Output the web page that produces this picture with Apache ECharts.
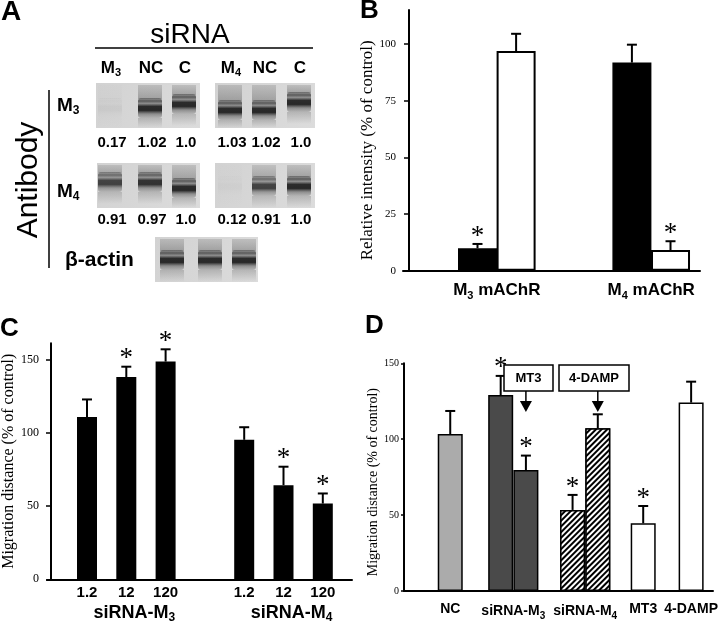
<!DOCTYPE html>
<html><head><meta charset="utf-8">
<script src="https://cdn.jsdelivr.net/npm/echarts@6/dist/echarts.min.js"></script>
<style>html,body{margin:0;padding:0;background:#fff}#c{width:720px;height:623px}</style>
</head><body><div id="c"></div>
<script>
// ---------------- DATA ----------------
// Panel A: western blot densitometry ratios (relative to control C)
const blotLanes = ['M3', 'NC', 'C', 'M4', 'NC', 'C'];
const m3AntibodyRatios = [0.17, 1.02, 1.0, 1.03, 1.02, 1.0];
const m4AntibodyRatios = [0.91, 0.97, 1.0, 0.12, 0.91, 1.0];
const actinRatios = [1.0, 1.0, 1.0];

// Panel B: relative intensity (% of control)
const bCategories = ['M3 mAChR', 'M4 mAChR'];
const bSiM3 = [9.9, 91.8];     // black bars
const bSiM3Sem = [1.9, 7.9];
const bSiM4 = [96.9, 9.1];     // white bars
const bSiM4Sem = [7.6, 3.9];
const bSigM3 = [1, 0];
const bSigM4 = [0, 1];
const bTicks = [0, 25, 50, 75, 100];

// Panel C: migration distance (% of control)
const cDoses = ['1.2', '12', '120'];
const cGroups = ['siRNA-M3', 'siRNA-M4'];
const cValues = [111.0, 138.3, 148.9, 95.4, 64.4, 51.8];
const cSem = [12.0, 7.1, 8.4, 8.6, 12.6, 6.9];
const cSig = [0, 1, 1, 0, 1, 1];
const cTicks = [0, 50, 100, 150];

// Panel D: migration distance (% of control)
const dBars = ['NC', 'siRNA-M3', 'siRNA-M3 + MT3', 'siRNA-M4', 'siRNA-M4 + 4-DAMP', 'MT3', '4-DAMP'];
const dValues = [103.4, 129.1, 79.7, 53.4, 107.2, 44.6, 124.1];
const dSem = [15.2, 12.6, 9.5, 9.9, 9.2, 11.4, 13.8];
const dSig = [0, 1, 1, 1, 0, 1, 0];
const dGroups = ['NC', 'siRNA-M3', 'siRNA-M4', 'MT3', '4-DAMP'];
const dTicks = [0, 50, 100, 150];

// ---------------- LAYOUT (slot positions on the value x-axes) ----------------
const SANS = 'Liberation Sans';
const SERIF = 'Liberation Serif';
const bPosM3 = [0, 4], bPosM4 = [1, 5], bGroupPos = [0.5, 4.5];
const cPos = [0, 1, 2, 4, 5, 6], cGroupPos = [1, 5];
const dPos = [0, 2, 3, 4.85, 5.85, 7.65, 9.55];
const dGroupPos = [0, 2.5, 5.35, 7.65, 9.55];

function richSub(str) {
  return '{b|' + str.replace(/M(\d)/g, 'M}{s|$1}{b|') + '}';
}
function richStyles(size, subSize, subPad) {
  return {
    b: {fontFamily: SANS, fontWeight: 'bold', fontSize: size, color: '#000'},
    s: {fontFamily: SANS, fontWeight: 'bold', fontSize: subSize, color: '#000', padding: [subPad, 0, 0, 0]}
  };
}

function errRender(params, api) {
  const x = api.value(0), v = api.value(1), e = api.value(2), s = api.value(3);
  const p0 = api.coord([x, v]), p1 = api.coord([x, e]);
  const ch = [
    {type: 'line', shape: {x1: p0[0], y1: p0[1], x2: p1[0], y2: p1[1]}, style: {stroke: '#000', lineWidth: 2}},
    {type: 'line', shape: {x1: p1[0] - 5, y1: p1[1], x2: p1[0] + 5, y2: p1[1]}, style: {stroke: '#000', lineWidth: 2}}
  ];
  if (s) ch.push({type: 'text', x: p1[0], y: p1[1] + 6, style: {text: '*', fontFamily: SERIF, fontSize: 27, align: 'center', verticalAlign: 'bottom', fill: '#000'}});
  return {type: 'group', children: ch};
}

function yAxisBase(grid, max, ticks, size, margin, offset) {
  return {
    gridIndex: grid, type: 'value', min: 0, max: max, offset: offset,
    axisLine: {show: true, onZero: false, lineStyle: {color: '#000', width: 2}},
    axisTick: {show: true, length: 5, customValues: ticks, lineStyle: {color: '#000', width: 1.5}},
    axisLabel: {customValues: ticks, fontFamily: SERIF, fontSize: size, color: '#000', margin: margin},
    splitLine: {show: false},
    nameLocation: 'middle', nameRotate: 90
  };
}
function xAxisBase(grid, min, max) {
  return {
    gridIndex: grid, type: 'value', min: min, max: max, position: 'bottom',
    axisLine: {show: true, onZero: false, lineStyle: {color: '#000', width: 2}},
    axisTick: {show: false}, splitLine: {show: false}
  };
}

// ---------------- Panel A graphics ----------------
const laneX = [110, 150, 184, 230, 264, 299];
function a(x) { return Math.max(0, Math.min(1, x)).toFixed(3); }
function laneEls(cx, top, bottom, bandY, ratio) {
  const k = Math.pow(Math.min(1, ratio), 1.6);
  const w = 24;
  const band = bandY - 9, bh = 20;
  return [
    {type: 'rect', shape: {x: cx - w / 2, y: top, width: w, height: band - top + 1},
      style: {fill: {type: 'linear', x: 0, y: 0, x2: 0, y2: 1, colorStops: [
        {offset: 0, color: 'rgba(80,80,80,' + a(0.2 * k) + ')'}, {offset: 1, color: 'rgba(70,70,70,' + a(0.38 * k) + ')'}]}}},
    {type: 'rect', shape: {x: cx - w / 2, y: band, width: w, height: bh, r: 3},
      style: {fill: {type: 'linear', x: 0, y: 0, x2: 0, y2: 1, colorStops: [
        {offset: 0, color: 'rgba(50,50,50,' + a(0.38 * k) + ')'},
        {offset: 0.15, color: 'rgba(35,35,35,' + a(0.7 * k) + ')'},
        {offset: 0.27, color: 'rgba(50,50,50,' + a(0.45 * k) + ')'},
        {offset: 0.42, color: 'rgba(25,25,25,' + a(0.9 * k) + ')'},
        {offset: 0.62, color: 'rgba(25,25,25,' + a(0.92 * k) + ')'},
        {offset: 0.8, color: 'rgba(50,50,50,' + a(0.45 * k) + ')'},
        {offset: 1, color: 'rgba(70,70,70,' + a(0.25 * k) + ')'}]}}},
    {type: 'rect', shape: {x: cx - w / 2, y: band + bh, width: w, height: Math.max(0, Math.min(12, bottom - band - bh))},
      style: {fill: {type: 'linear', x: 0, y: 0, x2: 0, y2: 1, colorStops: [
        {offset: 0, color: 'rgba(70,70,70,' + a(0.25 * k) + ')'}, {offset: 1, color: 'rgba(70,70,70,0)'}]}}}
  ];
}
function blotEls(x, y, w, h, lanes) {
  const els = [{type: 'rect', shape: {x: x, y: y, width: w, height: h},
    style: {fill: {type: 'linear', x: 0, y: 0, x2: 1, y2: 1, colorStops: [{offset: 0, color: '#d2d2d2'}, {offset: 1, color: '#dcdcdc'}]}}}];
  lanes.forEach(l => els.push(...laneEls(l[0], y + 2, y + h, l[1], l[2])));
  return els;
}
function fmtRatio(v) { const s = String(v); return s.indexOf('.') < 0 ? s + '.0' : s; }

const row1Band = [107, 107, 103, 109, 109, 101];
const row2Band = [181, 181, 187, 185, 185, 185];
const actinX = [172, 210, 244];

const gA = [];
gA.push({type: 'text', x: 1, y: 12, style: {text: 'A', fontFamily: SANS, fontWeight: 'bold', fontSize: 28, fill: '#000', verticalAlign: 'middle'}});
gA.push({type: 'text', x: 190, y: 35, style: {text: 'siRNA', fontFamily: SANS, fontSize: 28, fill: '#000', align: 'center', verticalAlign: 'middle'}});
gA.push({type: 'line', shape: {x1: 95, y1: 48, x2: 313, y2: 48}, style: {stroke: '#000', lineWidth: 1.5}});
blotLanes.forEach((t, i) => {
  gA.push({type: 'text', x: laneX[i] + 1, y: 68, style: {text: richSub(t), rich: richStyles(17, 11, 9), align: 'center', verticalAlign: 'middle'}});
});
gA.push(...blotEls(96, 83, 104, 45, [0, 1, 2].map(i => [laneX[i], row1Band[i], m3AntibodyRatios[i]])));
gA.push(...blotEls(215, 83, 100, 45, [3, 4, 5].map(i => [laneX[i], row1Band[i], m3AntibodyRatios[i]])));
gA.push(...blotEls(97, 163, 103, 45, [0, 1, 2].map(i => [laneX[i], row2Band[i], m4AntibodyRatios[i]])));
gA.push(...blotEls(215, 163, 100, 45, [3, 4, 5].map(i => [laneX[i], row2Band[i], m4AntibodyRatios[i]])));
gA.push(...blotEls(155, 237, 103, 45, actinX.map((x, i) => [x, 259, actinRatios[i]])));
m3AntibodyRatios.forEach((v, i) => gA.push({type: 'text', x: laneX[i] + 2, y: 143, style: {text: fmtRatio(v), fontFamily: SANS, fontWeight: 'bold', fontSize: 15, fill: '#000', align: 'center', verticalAlign: 'middle'}}));
m4AntibodyRatios.forEach((v, i) => gA.push({type: 'text', x: laneX[i] + 2, y: 220, style: {text: fmtRatio(v), fontFamily: SANS, fontWeight: 'bold', fontSize: 15, fill: '#000', align: 'center', verticalAlign: 'middle'}}));
gA.push({type: 'text', x: 57, y: 106, style: {text: richSub('M3'), rich: richStyles(19, 12, 10), verticalAlign: 'middle'}});
gA.push({type: 'text', x: 57, y: 192, style: {text: richSub('M4'), rich: richStyles(19, 12, 10), verticalAlign: 'middle'}});
gA.push({type: 'text', x: 65, y: 260, style: {text: 'β-actin', fontFamily: SANS, fontWeight: 'bold', fontSize: 21, fill: '#000', verticalAlign: 'middle'}});
gA.push({type: 'line', shape: {x1: 49, y1: 90, x2: 49, y2: 268}, style: {stroke: '#000', lineWidth: 1.5}});
gA.push({type: 'text', x: 29, y: 180, rotation: Math.PI / 2, style: {text: 'Antibody', fontFamily: SANS, fontSize: 30, fill: '#000', align: 'center', verticalAlign: 'middle'}});
gA.push({type: 'text', x: 360, y: 11, style: {text: 'B', fontFamily: SANS, fontWeight: 'bold', fontSize: 26, fill: '#000', verticalAlign: 'middle'}});
gA.push({type: 'text', x: 0, y: 329, style: {text: 'C', fontFamily: SANS, fontWeight: 'bold', fontSize: 26, fill: '#000', verticalAlign: 'middle'}});
gA.push({type: 'text', x: 365, y: 326, style: {text: 'D', fontFamily: SANS, fontWeight: 'bold', fontSize: 26, fill: '#000', verticalAlign: 'middle'}});

// ---------------- chart ----------------
const hatch = {symbol: 'rect', symbolSize: 1, dashArrayX: [1, 0], dashArrayY: [1.4, 2.0], rotation: -Math.PI / 4, color: '#000', backgroundColor: '#fff'};
const dStyles = [
  {color: '#ababab', borderColor: '#000', borderWidth: 1.5},
  {color: '#4a4a4a', borderColor: '#000', borderWidth: 1.5},
  {color: '#4a4a4a', borderColor: '#000', borderWidth: 1.5},
  {color: '#fff', borderColor: '#000', borderWidth: 1.5, decal: hatch},
  {color: '#fff', borderColor: '#000', borderWidth: 1.5, decal: hatch},
  {color: '#fff', borderColor: '#000', borderWidth: 1.5},
  {color: '#fff', borderColor: '#000', borderWidth: 1.5}
];

const yB = Object.assign(yAxisBase(0, 115, bTicks, 11, 13, -6), {name: 'Relative intensity (% of control)', nameGap: 24,
  nameTextStyle: {fontFamily: SERIF, fontSize: 17, color: '#000', padding: [0, 20, 0, 0]}});
const yC = Object.assign(yAxisBase(1, 161.4, cTicks, 12, 12, -4), {name: 'Migration distance (% of control)', nameGap: 30,
  nameTextStyle: {fontFamily: SERIF, fontSize: 16, color: '#000'}});
const yD = Object.assign(yAxisBase(2, 150, dTicks, 10, 5, 0), {name: 'Migration distance (% of control)', nameGap: 23,
  nameTextStyle: {fontFamily: SERIF, fontSize: 14, color: '#000', padding: [0, 10, 0, 0]}});
yD.axisTick.length = 3;

const xB = xAxisBase(0, -1.930, 5.764);
xB.axisLabel = {customValues: bGroupPos, margin: 8, formatter: v => richSub(bCategories[bGroupPos.indexOf(v)]), rich: richStyles(17, 11, 12)};
const xC = xAxisBase(1, -1.018, 6.743);
xC.axisLabel = {customValues: cPos, margin: 6, formatter: v => cDoses[cPos.indexOf(v) % 3], fontFamily: SANS, fontWeight: 'bold', fontSize: 15, color: '#000'};
const xC2 = xAxisBase(1, -1.018, 6.743);
xC2.axisLine = {show: false}; xC2.offset = 20;
xC2.axisLabel = {customValues: cGroupPos, margin: 3, padding: [0, 0, 0, 16], formatter: v => richSub(cGroups[cGroupPos.indexOf(v)]), rich: richStyles(18, 12, 9)};
const xD = xAxisBase(2, -1.833, 10.417);
xD.axisLabel = {customValues: dGroupPos, margin: 11, formatter: v => richSub(dGroups[dGroupPos.indexOf(v)]), rich: richStyles(14, 10, 9)};

const option = {
  animation: false,
  backgroundColor: '#fff',
  grid: [
    {left: 403, right: 20, top: 10, bottom: 352.3, outerBoundsMode: 'none', containLabel: false},
    {left: 47, right: 368, top: 343.3, bottom: 43.7, outerBoundsMode: 'none', containLabel: false},
    {left: 404, right: 7, top: 363.3, bottom: 32, outerBoundsMode: 'none', containLabel: false}
  ],
  xAxis: [xB, xC, xC2, xD],
  yAxis: [yB, yC, yD],
  series: [
    {name: 'siRNA-M3', type: 'bar', xAxisIndex: 0, yAxisIndex: 0, barWidth: 39, barGap: '-100%',
      itemStyle: {color: '#000', borderColor: '#000', borderWidth: 1.5},
      data: bSiM3.map((v, i) => [bPosM3[i], v])},
    {name: 'siRNA-M4', type: 'bar', xAxisIndex: 0, yAxisIndex: 0, barWidth: 39, barGap: '-100%',
      itemStyle: {color: '#fff', borderColor: '#000', borderWidth: 2},
      data: bSiM4.map((v, i) => [bPosM4[i], v])},
    {type: 'custom', xAxisIndex: 0, yAxisIndex: 0, z: 5, renderItem: errRender,
      data: bSiM3.map((v, i) => [bPosM3[i], v, v + bSiM3Sem[i], bSigM3[i]])
        .concat(bSiM4.map((v, i) => [bPosM4[i], v, v + bSiM4Sem[i], bSigM4[i]]))},
    {name: 'C', type: 'bar', xAxisIndex: 1, yAxisIndex: 1, barWidth: 20,
      itemStyle: {color: '#000'}, data: cValues.map((v, i) => [cPos[i], v])},
    {type: 'custom', xAxisIndex: 1, yAxisIndex: 1, z: 5, renderItem: errRender,
      data: cValues.map((v, i) => [cPos[i], v, v + cSem[i], cSig[i]])},
    {name: 'D', type: 'bar', xAxisIndex: 3, yAxisIndex: 2, barWidth: 25,
      data: dValues.map((v, i) => ({name: dBars[i], value: [dPos[i], v], itemStyle: dStyles[i]}))},
    {type: 'custom', xAxisIndex: 3, yAxisIndex: 2, z: 5, renderItem: errRender,
      data: dValues.map((v, i) => [dPos[i], v, v + dSem[i], dSig[i]])}
  ],
  graphic: gA
};

const chart = echarts.init(document.getElementById('c'));
chart.setOption(option);

function annot(label, barIdx, boxX, boxW) {
  const px = chart.convertToPixel({xAxisIndex: 3, yAxisIndex: 2}, [dPos[barIdx], 0])[0];
  return [
    {type: 'rect', shape: {x: boxX, y: 365, width: boxW, height: 26}, style: {fill: '#fff', stroke: '#000', lineWidth: 1.5}, z: 10},
    {type: 'text', x: boxX + boxW / 2, y: 378.5, z: 11, style: {text: label, fontFamily: SANS, fontWeight: 'bold', fontSize: 13, fill: '#000', align: 'center', verticalAlign: 'middle'}},
    {type: 'line', shape: {x1: px, y1: 391, x2: px, y2: 402}, style: {stroke: '#000', lineWidth: 1.5}, z: 10},
    {type: 'polygon', shape: {points: [[px - 6, 401], [px + 6, 401], [px, 412]]}, style: {fill: '#000'}, z: 10}
  ];
}
chart.setOption({graphic: gA.concat(annot('MT3', 2, 504, 49), annot('4-DAMP', 4, 559, 70))});
</script></body></html>
